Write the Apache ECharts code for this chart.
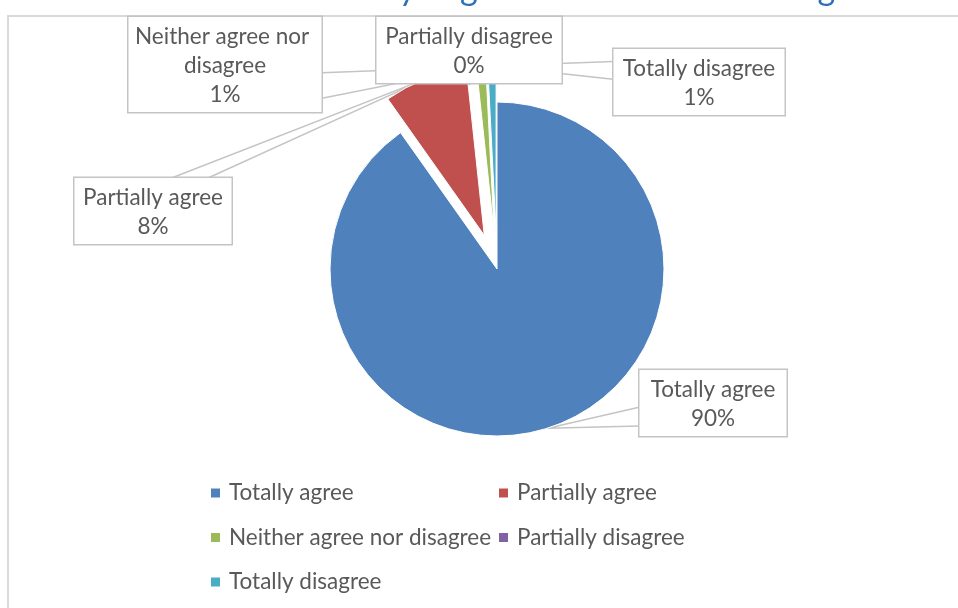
<!DOCTYPE html>
<html><head><meta charset="utf-8">
<script src="https://cdn.jsdelivr.net/npm/echarts@6/dist/echarts.min.js"></script>
<style>html,body{margin:0;padding:0;background:#fff;overflow:hidden}#c{width:958px;height:608px}</style>
</head><body><div id="c"></div>
<script>
// ---- data ----
const categories = ['Totally agree', 'Partially agree', 'Neither agree nor disagree', 'Partially disagree', 'Totally disagree'];
const values = [90.2, 8.1, 0.9, 0, 0.8];
const colors = ['#4F81BD', '#C0504D', '#9BBB59', '#8064A2', '#4BACC6'];
const exploded = [false, true, true, true, true];
const titleText = 'Personally I agree with the full training';

// ---- layout ----
const FONT = 'Lato, "Open Sans", sans-serif';
const FS = 22.5;
const PAD = [5, 4, 3, 4];
const CENTER = [497, 269];
const RADIUS = 167;
const explodeOffset = 36;
const labelBoxes = [
  { left: 638, top: 370, width: 147, side: 'left', a: 0.54, b: 0.81 },
  { left: 73, top: 178, width: 157, side: 'top', a: 0.60, b: 0.83 },
  { left: 127, top: 17, width: 193, side: 'right', a: 0.57, b: 0.83 },
  { left: 375, top: 17, width: 185, side: 'bottom', a: 0.5, b: 0.6 },
  { left: 612, top: 49, width: 171, side: 'left', a: 0.18, b: 0.44 }
];

const chart = echarts.init(document.getElementById('c'), null, { renderer: 'canvas' });

// explosion: each slice is drawn by its own pie series whose centre is pushed
// outward along that slice's mid angle (derived from the data)
const total = values.reduce((s, v) => s + v, 0);
const centers = [];
let cum = 0;
values.forEach((v, i) => {
  const mid = -Math.PI / 2 + 2 * Math.PI * (cum + v / 2) / total;
  cum += v;
  const off = exploded[i] ? explodeOffset : 0;
  centers.push([CENTER[0] + off * Math.cos(mid), CENTER[1] + off * Math.sin(mid)]);
});

function wedge(box, W, H, tip) {
  const L = box.left, T = box.top;
  let A, B;
  if (box.side === 'left') { A = [L + 1, T + box.a * H]; B = [L + 1, T + box.b * H]; }
  else if (box.side === 'right') { A = [L + W - 1, T + box.a * H]; B = [L + W - 1, T + box.b * H]; }
  else if (box.side === 'top') { A = [L + box.a * W, T + 1]; B = [L + box.b * W, T + 1]; }
  else { A = [L + box.a * W, T + H - 1]; B = [L + box.b * W, T + H - 1]; }
  return [A, tip, B];
}

const labelBase = {
  show: true,
  position: 'outside',
  formatter: p => p.name + '\n' + Math.round(p.percent) + '%',
  fontFamily: FONT, fontSize: FS, color: '#595959', lineHeight: 29,
  align: 'center', overflow: 'break',
  backgroundColor: '#ffffff', borderColor: '#C4C4C4', borderWidth: 1.5,
  padding: PAD
};

const series = categories.map((cat, s) => ({
  type: 'pie',
  name: cat,
  center: centers[s],
  radius: RADIUS,
  startAngle: 90,
  clockwise: true,
  avoidLabelOverlap: false,
  silent: true,
  emphasis: { disabled: true },
  labelLine: { show: true, length: 10, length2: 10, lineStyle: { color: '#C4C4C4', width: 1.5 } },
  labelLayout: function (p) {
    const i = p.dataIndex;
    if (i !== s) return {};
    const box = labelBoxes[i];
    const lay = chart.getModel().getSeriesByIndex(s).getData().getItemLayout(i);
    const mid = (lay.startAngle + lay.endAngle) / 2;
    const tip = [lay.cx + lay.r * Math.cos(mid), lay.cy + lay.r * Math.sin(mid)];
    const W = p.labelRect.width, H = p.labelRect.height;
    return {
      x: box.left + W / 2, y: box.top,
      align: 'center', verticalAlign: 'top',
      labelLinePoints: wedge(box, W, H, tip)
    };
  },
  data: categories.map((name, j) => (j === s ? {
    name: name, value: values[j],
    itemStyle: { color: colors[j], borderColor: '#ffffff', borderWidth: 1 },
    label: Object.assign({}, labelBase, { width: labelBoxes[j].width - PAD[1] - PAD[3] })
  } : {
    name: name, value: values[j],
    itemStyle: { color: 'rgba(0,0,0,0)', borderWidth: 0 },
    label: { show: false }, labelLine: { show: false }
  }))
}));

const legendText = { fontFamily: FONT, fontSize: FS, color: '#595959', lineHeight: 24, padding: [0, 0, 0, 4] };
const legendItem = i => ({ name: categories[i], itemStyle: { color: colors[i], opacity: 1, borderWidth: 0 } });

const option = {
  animation: false,
  backgroundColor: '#ffffff',
  title: {
    text: titleText,
    left: 258,
    top: -33,
    textStyle: { fontFamily: FONT, fontSize: 34, fontWeight: 'normal', color: '#2E6FB7' }
  },
  graphic: [{
    type: 'rect', z: -10, silent: true,
    shape: { x: 8, y: 16, width: 1000, height: 1000 },
    style: { fill: '#ffffff', stroke: '#D9D9D9', lineWidth: 2 }
  }],
  legend: [{
    orient: 'vertical', left: 211, top: 481, itemGap: 20.5, padding: 0,
    icon: 'rect', itemWidth: 9, itemHeight: 9, selectedMode: false,
    data: [legendItem(0), legendItem(2), legendItem(4)],
    textStyle: legendText
  }, {
    orient: 'vertical', left: 499, top: 481, itemGap: 20.5, padding: 0,
    icon: 'rect', itemWidth: 9, itemHeight: 9, selectedMode: false,
    data: [legendItem(1), legendItem(3)],
    textStyle: legendText
  }],
  series: series
};
chart.setOption(option);
</script></body></html>
